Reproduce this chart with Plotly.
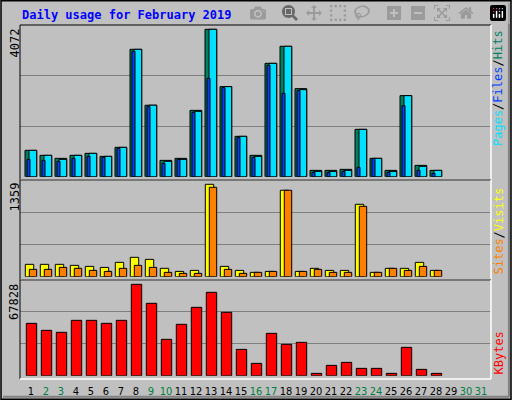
import plotly.graph_objects as go

days = list(range(1, 32))
weekend = [2, 3, 9, 10, 16, 17, 23, 24, 30, 31]

hits = [728, 590, 507, 590, 645, 562, 811, 3519, 1975, 451, 507, 1833, 4072, 2488,
        1115, 590, 3132, 3602, 2433, 175, 175, 203, 1308, 507, 175, 2239, 313, 175]
files = [728, 590, 479, 590, 645, 562, 811, 3519, 1975, 424, 479, 1806, 4072, 2488,
         1115, 562, 3132, 3602, 2405, 147, 147, 175, 1308, 507, 147, 2239, 286, 175]
pages = [479, 451, 424, 507, 562, 535, 783, 3464, 1935, 369, 479, 1778, 2718, 2460,
         1087, 535, 3077, 2304, 2377, 120, 120, 147, 258, 507, 120, 1963, 175, 92]
visits = [182, 182, 182, 167, 152, 137, 211, 285, 255, 123, 78, 93, 1359, 152,
          93, 64, 78, 1271, 78, 123, 93, 93, 1065, 64, 123, 123, 211, 93]
sites = [108, 108, 137, 123, 93, 78, 123, 167, 137, 64, 49, 49, 1315, 108,
         49, 64, 78, 1271, 78, 108, 64, 64, 1035, 64, 123, 93, 152, 93]
kbytes = [38860, 33660, 32180, 41090, 41090, 38860, 41090, 67828, 53710, 26980, 38120,
          50740, 61880, 47030, 19550, 9160, 31430, 23270, 24750, 1730, 7670, 9900,
          5450, 5450, 1730, 21040, 4700, 1730]

BG = "#C0C0C0"
W, H = 512, 400
PX = 15.0  # pixels per day
x0 = 20    # frame left in px


def fy(py):
    return 1 - py / H


xr = [1 - (31 - x0) / PX, 1 - (31 - x0) / PX + (491 - x0) / PX]
n = len(hits)
d = days[:n]

fig = go.Figure()


def bar(y, color, left, right, xa, ya):
    fig.add_trace(go.Bar(x=d, y=y, marker=dict(color=color, line=dict(color="black", width=1)),
                         offset=left / PX, width=(right - left) / PX, xaxis=xa, yaxis=ya,
                         showlegend=False, hoverinfo="y"))


bar(hits, "#00805C", -6, 5.7, "x2", "y")
bar(files, "#00E0FF", -2, 5.7, "x2", "y")
bar(pages, "#0040FF", -4, -1, "x2", "y")
bar(visits, "#FFFF00", -5.7, 2.7, "x3", "y2")
bar(sites, "#FF8000", -1.7, 5.7, "x3", "y2")
bar(kbytes, "#FF0000", -4.7, 5.7, "x", "y3")

ranges = {"yaxis": (25, 176.7, 29.3, max(hits)),
          "yaxis2": (180, 276.7, 184.3, max(visits)),
          "yaxis3": (280, 375.7, 284.3, max(kbytes))}
dom_x = [x0 / W, 491 / W]
ticktext = [f"<span style='color:{'#008040' if dd in weekend else 'black'}'>{dd}</span>" for dd in days]

layout = dict(width=W, height=H, margin=dict(l=0, r=0, t=0, b=0),
              paper_bgcolor=BG, plot_bgcolor=BG, barmode="overlay",
              font=dict(family="DejaVu Sans Mono", size=11, color="black"))
for name, (top, base, maxpx, mx) in ranges.items():
    rng = mx * (base - top) / (base - maxpx)
    layout[name] = dict(domain=[fy(base), fy(top)], range=[0, rng],
                        tickvals=[rng / 3, 2 * rng / 3], showticklabels=False,
                        gridcolor="#808080", gridwidth=1, zeroline=False, fixedrange=True)
layout["xaxis"] = dict(domain=dom_x, range=xr, anchor="y3", tickvals=days, ticktext=ticktext,
                       ticks="outside", ticklen=5, tickcolor=BG, tickangle=0, showgrid=False,
                       zeroline=False, tickfont=dict(size=11, family="DejaVu Sans Condensed"))
for a in ["xaxis2", "xaxis3"]:
    layout[a] = dict(domain=dom_x, range=xr, anchor="y" if a == "xaxis2" else "y2",
                     showticklabels=False, showgrid=False, zeroline=False)
fig.update_layout(**layout)

# frames
shapes = []
for top, bot in [(25, 180), (180, 280), (280, 379)]:
    shapes.append(dict(type="line", xref="paper", yref="paper", x0=dom_x[0], x1=dom_x[1],
                       y0=fy(top), y1=fy(top), line=dict(color="black", width=1)))
    shapes.append(dict(type="line", xref="paper", yref="paper", x0=dom_x[0], x1=dom_x[0],
                       y0=fy(top), y1=fy(bot), line=dict(color="black", width=1)))
    shapes.append(dict(type="line", xref="paper", yref="paper", x0=dom_x[0], x1=dom_x[1],
                       y0=fy(bot), y1=fy(bot), line=dict(color="white", width=1.5)))
    shapes.append(dict(type="line", xref="paper", yref="paper", x0=dom_x[1], x1=dom_x[1],
                       y0=fy(top), y1=fy(bot), line=dict(color="white", width=1.5)))
shapes.append(dict(type="rect", xref="paper", yref="paper", x0=0.002, x1=0.998, y0=0.002, y1=0.998,
                   line=dict(color="black", width=1.5)))
shapes.append(dict(type="line", xref="paper", yref="paper", x0=0.006, x1=0.994, y0=0.008, y1=0.008,
                   line=dict(color="#808080", width=2)))
shapes.append(dict(type="line", xref="paper", yref="paper", x0=0.994, x1=0.994, y0=0.008, y1=0.992,
                   line=dict(color="#808080", width=2)))
fig.update_layout(shapes=shapes)

ann = [dict(text="<b>Daily usage for February 2019</b>", x=20 / W, y=fy(15), xanchor="left",
            yanchor="middle", font=dict(color="#0000FF", size=12))]
for txt, py, anchor in [(str(max(hits)), 27, "top"), (str(max(visits)), 181, "top"),
                        (str(max(kbytes)), 282, "top")]:
    ann.append(dict(text=txt, x=14 / W, y=fy(py), textangle=-90, xanchor="center",
                    yanchor=anchor, font=dict(size=12)))
ann.append(dict(text="<span style='color:#00E0FF'>Pages</span>/<span style='color:#0040FF'>Files</span>/"
                     "<span style='color:#008060'>Hits</span>",
                x=498 / W, y=fy(28), textangle=-90, xanchor="center", yanchor="top", font=dict(size=12)))
ann.append(dict(text="<span style='color:#FF8000'>Sites</span>/<span style='color:#FFFF00'>Visits</span>",
                x=498 / W, y=fy(277), textangle=-90, xanchor="center", yanchor="bottom", font=dict(size=12)))
ann.append(dict(text="<span style='color:#FF0000'>KBytes</span>",
                x=498 / W, y=fy(377), textangle=-90, xanchor="center", yanchor="bottom", font=dict(size=12)))
for a in ann:
    a.update(xref="paper", yref="paper", showarrow=False)
fig.update_layout(annotations=ann)

fig.write_html("out.html", post_script="document.body.style.margin='0';document.body.style.overflow='hidden';")
